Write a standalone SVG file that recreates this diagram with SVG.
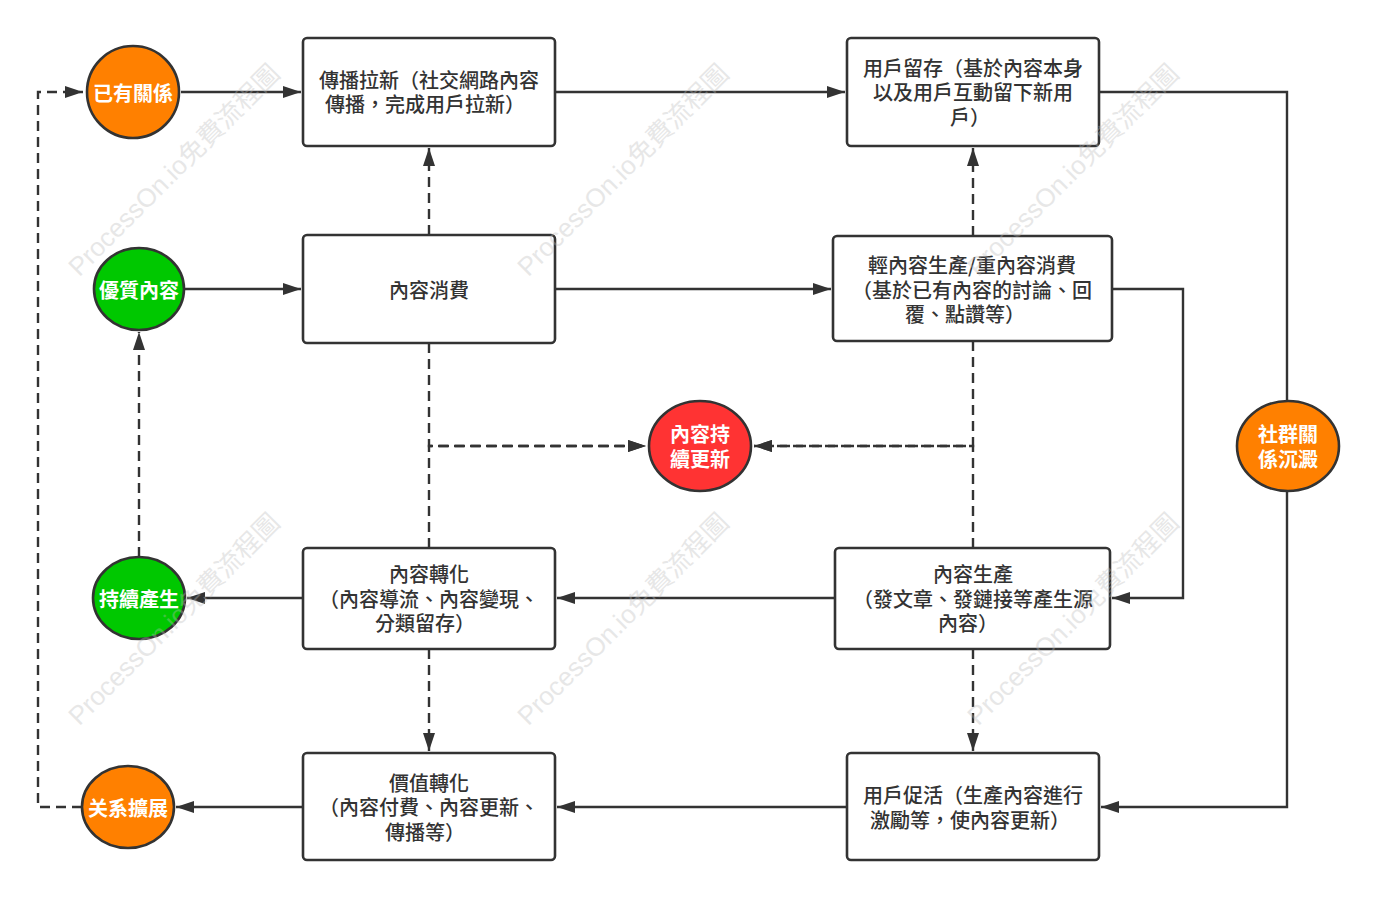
<svg xmlns="http://www.w3.org/2000/svg" width="1377" height="898" viewBox="0 0 1377 898">
<style>
.box{fill:#fff;stroke:#333;stroke-width:2.6}
.c{stroke:#333;stroke-width:2.6}
.t{font-family:"Noto Sans CJK TC","Noto Sans CJK SC",sans-serif;font-size:20px;fill:#333;text-anchor:middle;dominant-baseline:central;font-weight:500}
.w{font-family:"Noto Sans CJK TC","Noto Sans CJK SC",sans-serif;font-size:20px;fill:#fff;text-anchor:middle;dominant-baseline:central;font-weight:bold}
.ln{fill:none;stroke:#333;stroke-width:2.4}
.d{stroke-dasharray:10 6}
.wm{font-family:"Liberation Sans","Noto Sans CJK TC",sans-serif;font-size:26px;fill:#bbb;opacity:0.35;text-anchor:middle;dominant-baseline:central}
</style>
<defs>
<marker id="a" markerUnits="userSpaceOnUse" markerWidth="18" markerHeight="12" refX="18" refY="6" orient="auto">
<path d="M0,0 L18,6 L0,12 z" fill="#333"/>
</marker>
</defs>
<rect width="1377" height="898" fill="#fff"/>
<g id="connectors">
<path class="ln" d="M181,92 L301,92" marker-end="url(#a)"/>
<path class="ln" d="M555,92 L845,92" marker-end="url(#a)"/>
<path class="ln" d="M1099,92 L1287,92 L1287,401"/>
<path class="ln" d="M1287,491 L1287,807 L1101,807" marker-end="url(#a)"/>
<path class="ln" d="M185,289 L301,289" marker-end="url(#a)"/>
<path class="ln" d="M555,289 L831,289" marker-end="url(#a)"/>
<path class="ln d" d="M429,235 L429,148" marker-end="url(#a)"/>
<path class="ln d" d="M973,236 L973,148" marker-end="url(#a)"/>
<path class="ln" d="M1112,289 L1183,289 L1183,598 L1112,598" marker-end="url(#a)"/>
<path class="ln d" d="M429,343 L429,446 L646,446" marker-end="url(#a)"/>
<path class="ln d" d="M429,548 L429,446 L646,446" marker-end="url(#a)"/>
<path class="ln d" d="M973,341 L973,446 L754,446" marker-end="url(#a)"/>
<path class="ln d" d="M973,548 L973,446 L754,446" marker-end="url(#a)"/>
<path class="ln" d="M835,598 L557,598" marker-end="url(#a)"/>
<path class="ln" d="M303,598 L187,598" marker-end="url(#a)"/>
<path class="ln d" d="M139,557 L139,332" marker-end="url(#a)"/>
<path class="ln d" d="M429,649 L429,751" marker-end="url(#a)"/>
<path class="ln d" d="M973,649 L973,751" marker-end="url(#a)"/>
<path class="ln" d="M847,807 L557,807" marker-end="url(#a)"/>
<path class="ln" d="M303,807 L176,807" marker-end="url(#a)"/>
<path class="ln d" d="M82,807 L38,807 L38,92 L83,92" marker-end="url(#a)"/>
</g>
<g id="n-yiyou"><circle class="c" cx="133" cy="92" r="46" fill="#FF8000"/><text class="w" x="133" y="92">已有關係</text></g>
<g id="n-chuanbo"><rect class="box" x="303" y="38" width="252" height="108" rx="4"/><text class="t"><tspan x="429" y="79">傳播拉新（社交網路內容</tspan><tspan x="425" y="103">傳播，完成用戶拉新）</tspan></text></g>
<g id="n-liucun"><rect class="box" x="847" y="38" width="252" height="108" rx="4"/><text class="t"><tspan x="973" y="67">用戶留存（基於內容本身</tspan><tspan x="973" y="91">以及用戶互動留下新用</tspan><tspan x="970" y="116">戶）</tspan></text></g>
<g id="n-youzhi"><ellipse class="c" cx="139" cy="289" rx="45" ry="41" fill="#00C800"/><text class="w" x="139" y="289">優質內容</text></g>
<g id="n-xiaofei"><rect class="box" x="303" y="235" width="252" height="108" rx="4"/><text class="t" x="429" y="289">內容消費</text></g>
<g id="n-qing"><rect class="box" x="833" y="236" width="279" height="105" rx="4"/><text class="t"><tspan x="972" y="264">輕內容生產/重內容消費</tspan><tspan x="972" y="289">（基於已有內容的討論、回</tspan><tspan x="965" y="313">覆、點讚等）</tspan></text></g>
<g id="n-chixu"><ellipse class="c" cx="700" cy="446" rx="51" ry="45" fill="#FF3333"/><text class="w"><tspan x="700" y="433">內容持</tspan><tspan x="700" y="458">續更新</tspan></text></g>
<g id="n-shequn"><ellipse class="c" cx="1288" cy="446" rx="51" ry="45" fill="#FF8000"/><text class="w"><tspan x="1288" y="433">社群關</tspan><tspan x="1288" y="458">係沉澱</tspan></text></g>
<g id="n-chansheng"><ellipse class="c" cx="139" cy="598" rx="46" ry="41" fill="#00C800"/><text class="w" x="139" y="598">持續產生</text></g>
<g id="n-zhuanhua"><rect class="box" x="303" y="548" width="252" height="101" rx="4"/><text class="t"><tspan x="429" y="573">內容轉化</tspan><tspan x="429" y="598">（內容導流、內容變現、</tspan><tspan x="425" y="622">分類留存）</tspan></text></g>
<g id="n-shengchan"><rect class="box" x="835" y="548" width="275" height="101" rx="4"/><text class="t"><tspan x="973" y="573">內容生產</tspan><tspan x="973" y="598">（發文章、發鏈接等產生源</tspan><tspan x="968" y="622">內容）</tspan></text></g>
<g id="n-kuozhan"><ellipse class="c" cx="128" cy="807" rx="46" ry="41" fill="#FF8000"/><text class="w" x="128" y="807">关系擴展</text></g>
<g id="n-jiazhi"><rect class="box" x="303" y="753" width="252" height="107" rx="4"/><text class="t"><tspan x="429" y="782">價值轉化</tspan><tspan x="429" y="806">（內容付費、內容更新、</tspan><tspan x="425" y="831">傳播等）</tspan></text></g>
<g id="n-cuhuo"><rect class="box" x="847" y="753" width="252" height="107" rx="4"/><text class="t"><tspan x="973" y="794">用戶促活（生產內容進行</tspan><tspan x="970" y="819">激勵等，使內容更新）</tspan></text></g>
<g id="watermarks">
<text class="wm" transform="translate(174,170) rotate(-45)">ProcessOn.io免費流程圖</text>
<text class="wm" transform="translate(623,170) rotate(-45)">ProcessOn.io免費流程圖</text>
<text class="wm" transform="translate(1073,170) rotate(-45)">ProcessOn.io免費流程圖</text>
<text class="wm" transform="translate(174,619) rotate(-45)">ProcessOn.io免費流程圖</text>
<text class="wm" transform="translate(623,619) rotate(-45)">ProcessOn.io免費流程圖</text>
<text class="wm" transform="translate(1073,619) rotate(-45)">ProcessOn.io免費流程圖</text>
</g>
</svg>
